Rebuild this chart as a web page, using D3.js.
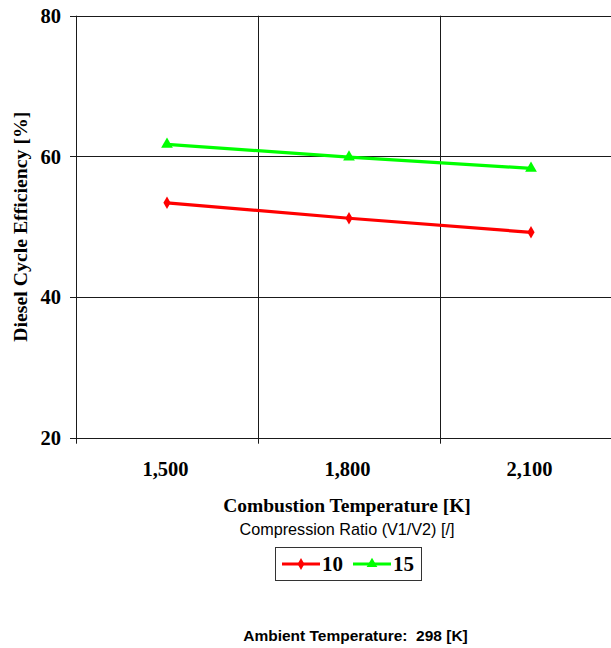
<!DOCTYPE html>
<html>
<head>
<meta charset="utf-8">
<script src="https://cdn.jsdelivr.net/npm/d3@7"></script>
<style>
    body { margin: 0; background: #fff; }
    .serif { font-family: "Liberation Serif", "Times New Roman", serif; font-weight: bold; fill: #000; }
    .sans { font-family: "Liberation Sans", Arial, sans-serif; fill: #000; }
</style>
</head>
<body>
<div class="cbox"></div>
<script>
// data
let temps = [1500, 1800, 2100]
let ratios = ["10", "15"]
let eff10 = [53.4, 51.2, 49.2]
let eff15 = [61.7, 59.9, 58.3]
let yTicks = [20, 40, 60, 80]
let colors = ["#ff0000", "#00ff00"]

let series = [
    {name: ratios[0], values: eff10, color: colors[0], mark: d3.symbolDiamond},
    {name: ratios[1], values: eff15, color: colors[1], mark: d3.symbolTriangle},
]

let W = 611
let H = 648
let pLeft = 76
let pTop = 15.7
let pBottom = 437.7
let pRight = 622   // plot runs past the window edge

let svg = d3.select('.cbox')
    .append("svg")
    .attr("width", W)
    .attr("height", H)

let x = d3.scaleBand()
    .domain(temps)
    .range([pLeft, pRight])
    .padding(0)

let y = d3.scaleLinear()
    .domain([20, 80])
    .range([pBottom, pTop])

let grid = "#1a1a1a"
let fmt = d3.format(",")

// horizontal grid lines (top one is the border, bottom one the axis)
svg.append("g")
    .selectAll("line")
    .data(yTicks)
    .join("line")
    .attr("x1", pLeft - 6)
    .attr("x2", W)
    .attr("y1", d => Math.round(y(d)) + 0.5)
    .attr("y2", d => Math.round(y(d)) + 0.5)
    .style("stroke", grid)
    .style("stroke-width", 1)

// vertical lines at the category edges
let edges = temps.map(d => x(d))
svg.append("g")
    .selectAll("line")
    .data(edges)
    .join("line")
    .attr("x1", d => Math.round(d) + 0.5)
    .attr("x2", d => Math.round(d) + 0.5)
    .attr("y1", pTop)
    .attr("y2", pBottom + 6)
    .style("stroke", grid)
    .style("stroke-width", 1)

// y tick labels
svg.append("g")
    .selectAll("text")
    .data(yTicks)
    .join("text")
    .attr("class", "serif")
    .attr("x", pLeft - 15)
    .attr("y", d => y(d))
    .attr("dy", "0.35em")
    .attr("text-anchor", "end")
    .style("font-size", "20.5px")
    .text(d => d)

// x tick labels
svg.append("g")
    .selectAll("text")
    .data(temps)
    .join("text")
    .attr("class", "serif")
    .attr("x", d => x(d) + x.bandwidth() / 2 - 1.5)
    .attr("y", 476)
    .attr("text-anchor", "middle")
    .style("font-size", "20.5px")
    .text(d => fmt(d))

// lines + markers
let line = d3.line()
    .x((d, i) => x(temps[i]) + x.bandwidth() / 2)
    .y(d => y(d))

series.forEach(s => {
    svg.append("path")
        .datum(s.values)
        .attr("d", line)
        .style("fill", "none")
        .style("stroke", s.color)
        .style("stroke-width", 3.2)

    svg.append("g")
        .selectAll("path")
        .data(s.values)
        .join("path")
        .attr("transform", (d, i) => `translate(${x(temps[i]) + x.bandwidth() / 2},${y(d)})`)
        .attr("d", d3.symbol().type(s.mark).size(s.mark == d3.symbolDiamond ? 45 : 60))
        .style("fill", s.color)
})

// axis titles
svg.append("text")
    .attr("class", "serif")
    .attr("transform", `translate(27,${(pTop + pBottom) / 2}) rotate(-90)`)
    .attr("text-anchor", "middle")
    .style("font-size", "19.8px")
    .text("Diesel Cycle Efficiency [%]")

svg.append("text")
    .attr("class", "serif")
    .attr("x", (pLeft + pRight) / 2 - 2)
    .attr("y", 511.5)
    .attr("text-anchor", "middle")
    .style("font-size", "19.5px")
    .text("Combustion Temperature [K]")

svg.append("text")
    .attr("class", "sans")
    .attr("x", (pLeft + pRight) / 2 - 2)
    .attr("y", 535)
    .attr("text-anchor", "middle")
    .style("font-size", "16.2px")
    .text("Compression Ratio (V1/V2) [/]")

// legend
let lg = svg.append("g").attr("transform", "translate(275,547)")
lg.append("rect")
    .attr("x", 0.5)
    .attr("y", 0.5)
    .attr("width", 146)
    .attr("height", 33)
    .style("fill", "#fff")
    .style("stroke", "#333")
    .style("stroke-width", 1)

series.forEach((s, i) => {
    let ox = 7 + i * 71
    let g = lg.append("g").attr("transform", `translate(${ox},17)`)
    g.append("line")
        .attr("x1", 0)
        .attr("x2", 38)
        .style("stroke", s.color)
        .style("stroke-width", 3.2)
    g.append("path")
        .attr("transform", "translate(19,0)")
        .attr("d", d3.symbol().type(s.mark).size(s.mark == d3.symbolDiamond ? 40 : 50))
        .style("fill", s.color)
    g.append("text")
        .attr("class", "serif")
        .attr("x", 40)
        .attr("dy", "0.35em")
        .style("font-size", "21px")
        .text(s.name)
})

svg.append("text")
    .attr("class", "sans")
    .attr("x", 355.5)
    .attr("y", 640.5)
    .attr("text-anchor", "middle")
    .style("font-size", "15.5px")
    .style("font-weight", "bold")
    .style("white-space", "pre")
    .text("Ambient Temperature:  298 [K]")
</script>
</body>
</html>
